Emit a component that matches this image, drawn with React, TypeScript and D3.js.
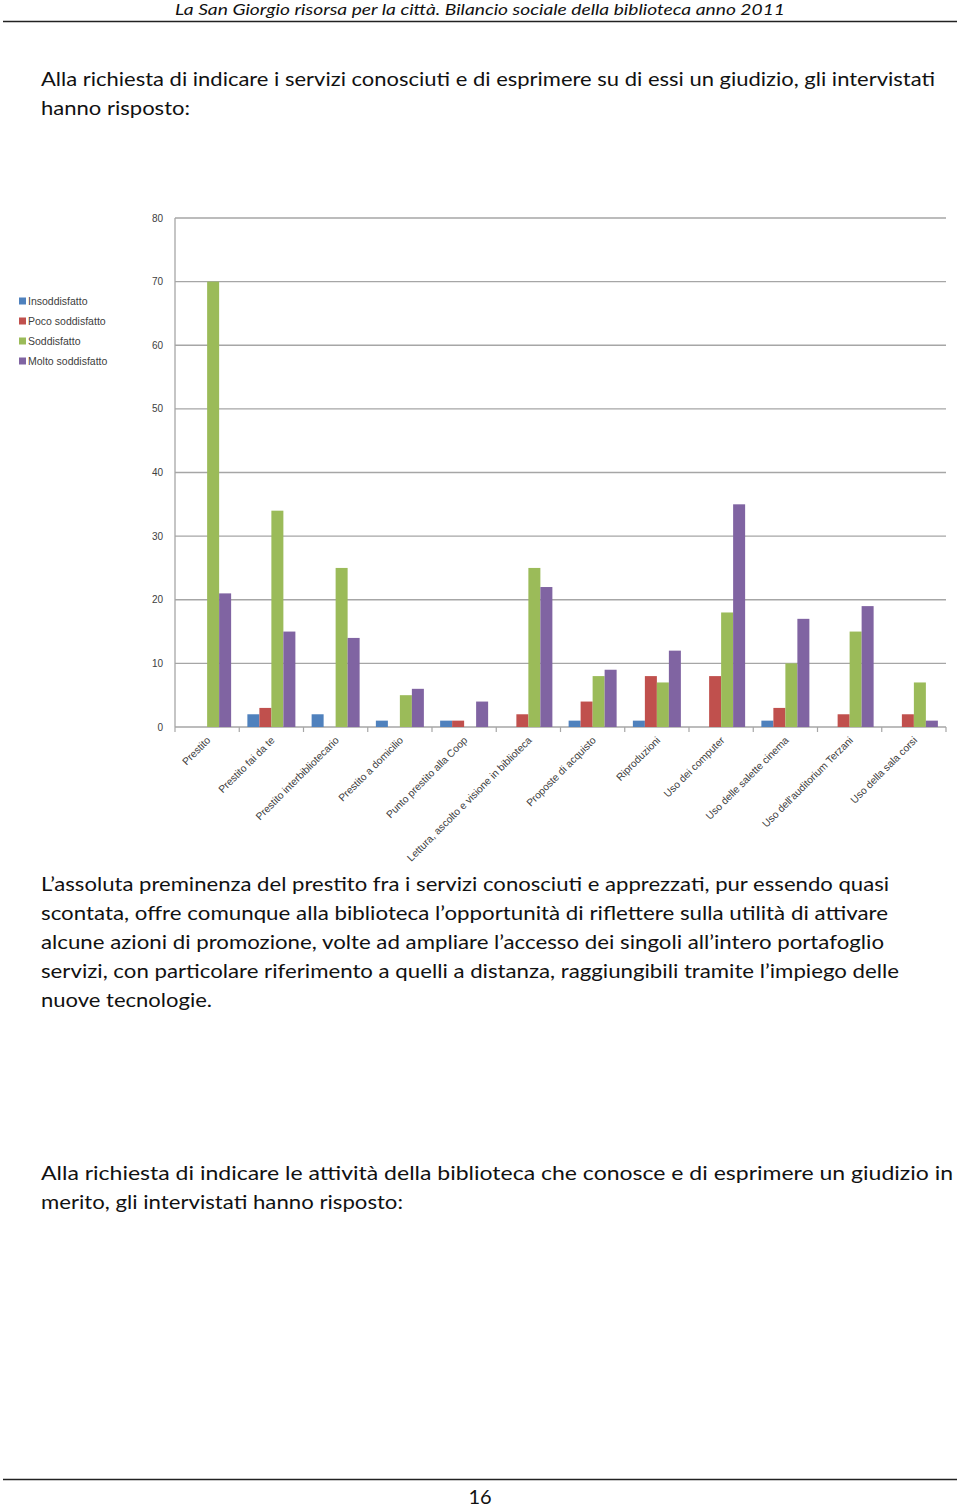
import React from "react";
import * as d3 from "d3";

const categories = [
  "Prestito",
  "Prestito fai da te",
  "Prestito interbibliotecario",
  "Prestito a domicilio",
  "Punto prestito alla Coop",
  "Lettura, ascolto e visione in biblioteca",
  "Proposte di acquisto",
  "Riproduzioni",
  "Uso dei computer",
  "Uso delle salette cinema",
  "Uso dell'auditorium Terzani",
  "Uso della sala corsi",
];

const seriesNames = ["Insoddisfatto", "Poco soddisfatto", "Soddisfatto", "Molto soddisfatto"];
const insoddisfatto = [0, 2, 2, 1, 1, 0, 1, 1, 0, 1, 0, 0];
const pocoSoddisfatto = [0, 3, 0, 0, 1, 2, 4, 8, 8, 3, 2, 2];
const soddisfatto = [70, 34, 25, 5, 0, 25, 8, 7, 18, 10, 15, 7];
const moltoSoddisfatto = [21, 15, 14, 6, 4, 22, 9, 12, 35, 17, 19, 1];
const yTicks = [0, 10, 20, 30, 40, 50, 60, 70, 80];

const seriesColors = ["#4F81BD", "#C0504D", "#9BBB59", "#8064A2"];

const headerText = "La San Giorgio risorsa per la città. Bilancio sociale della biblioteca anno 2011";
const para1 = [
  "Alla richiesta di indicare i servizi conosciuti e di esprimere su di essi un giudizio, gli intervistati",
  "hanno risposto:",
];
const para2 = [
  "L’assoluta preminenza del prestito fra i servizi conosciuti e apprezzati, pur essendo quasi",
  "scontata, offre comunque alla biblioteca l’opportunità di riflettere sulla utilità di attivare",
  "alcune azioni di promozione, volte ad ampliare l’accesso dei singoli all’intero portafoglio",
  "servizi, con particolare riferimento a quelli a distanza, raggiungibili tramite l’impiego delle",
  "nuove tecnologie.",
];
const para3 = [
  "Alla richiesta di indicare le attività della biblioteca che conosce e di esprimere un giudizio in",
  "merito, gli intervistati hanno risposto:",
];
const pageNumber = "16";

const BODY_FONT = "Lato, 'Open Sans', sans-serif";
const CHART_FONT = "'Liberation Sans', Arial, sans-serif";

export default function App() {
  const series = [insoddisfatto, pocoSoddisfatto, soddisfatto, moltoSoddisfatto];
  const left = 175, right = 946, top = 218, bottom = 727;
  const x = d3.scaleBand<string>().domain(categories).range([left, right]).paddingInner(0).paddingOuter(0);
  const bw = x.bandwidth();
  const barW = 12;
  const groupW = barW * series.length;
  const y = d3.scaleLinear().domain([0, 80]).range([bottom, top]);

  const p1Ends = [935, 190];
  const p2Ends = [889, 888, 884, 899, 212];
  const p3Ends = [953, 403];

  const bodyLine = (t: string, i: number, base: number, end: number, key: string) => (
    <text
      key={key}
      x={41}
      y={base + i * 29}
      fontFamily={BODY_FONT}
      fontSize={20}
      fill="#111"
      textLength={end - 41}
      lengthAdjust="spacingAndGlyphs"
    >
      {t}
    </text>
  );

  return (
    <svg
      width={960}
      height={1508}
      style={{ position: "absolute", left: 0, top: 0, background: "#fff" }}
    >
      <rect width={960} height={1508} fill="#fff" />
      {/* header */}
      <text
        x={175}
        y={15}
        fontFamily={BODY_FONT}
        fontStyle="italic"
        fontSize={16}
        fill="#111"
        textLength={610}
        lengthAdjust="spacingAndGlyphs"
      >
        {headerText}
      </text>
      <line x1={3} x2={957} y1={21.5} y2={21.5} stroke="#222" strokeWidth={1.5} />

      {para1.map((t, i) => bodyLine(t, i, 86, p1Ends[i], "p1" + i))}

      {/* chart */}
      <g fontFamily={CHART_FONT}>
        {yTicks.map((t) => (
          <g key={"gy" + t}>
            <line x1={left} x2={right} y1={y(t)} y2={y(t)} stroke="#A6A6A6" strokeWidth={1.3} />
            <text x={163} y={y(t)} dy="0.35em" textAnchor="end" fontSize={10} fill="#404040">
              {t}
            </text>
          </g>
        ))}
        <line x1={left} x2={left} y1={top} y2={bottom} stroke="#A6A6A6" strokeWidth={1.3} />
        {d3.range(categories.length + 1).map((i) => (
          <line
            key={"xt" + i}
            x1={left + i * bw}
            x2={left + i * bw}
            y1={bottom}
            y2={bottom + 5}
            stroke="#A6A6A6"
            strokeWidth={1.2}
          />
        ))}
        {categories.map((c, ci) =>
          series.map((s, si) => {
            const v = s[ci];
            if (!v) return null;
            const bx = (x(c) as number) + (bw - groupW) / 2 + si * barW;
            return (
              <rect
                key={c + si}
                x={bx}
                y={y(v)}
                width={barW}
                height={y(0) - y(v)}
                fill={seriesColors[si]}
              />
            );
          })
        )}
        {categories.map((c) => {
          const cx = (x(c) as number) + bw / 2 + 4;
          return (
            <text
              key={"lab" + c}
              transform={`translate(${cx},${bottom + 14}) rotate(-45)`}
              textAnchor="end"
              fontSize={10.3}
              fill="#404040"
            >
              {c}
            </text>
          );
        })}
        {/* legend */}
        {seriesNames.map((n, i) => (
          <g key={"lg" + n} transform={`translate(19,${301 + i * 20})`}>
            <rect x={0} y={-3.5} width={7} height={7} fill={seriesColors[i]} />
            <text x={9} y={0} dy="0.35em" fontSize={10.5} fill="#404040">
              {n}
            </text>
          </g>
        ))}
      </g>

      {para2.map((t, i) => bodyLine(t, i, 891, p2Ends[i], "p2" + i))}
      {para3.map((t, i) => bodyLine(t, i, 1180, p3Ends[i], "p3" + i))}

      <line x1={3} x2={957} y1={1479.5} y2={1479.5} stroke="#222" strokeWidth={1.5} />
      <text x={480} y={1504} textAnchor="middle" fontFamily={BODY_FONT} fontSize={20} fill="#111">
        {pageNumber}
      </text>
    </svg>
  );
}
